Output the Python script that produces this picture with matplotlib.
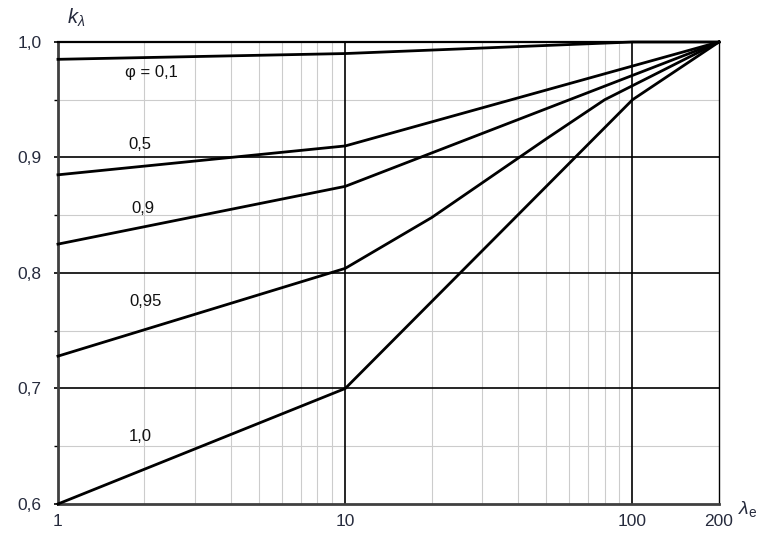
import matplotlib
matplotlib.use('Agg')
import matplotlib.pyplot as plt
from matplotlib.ticker import FixedLocator, NullFormatter

plt.rcParams['font.family'] = ['Liberation Sans', 'DejaVu Sans']
plt.rcParams['mathtext.fontset'] = 'custom'
plt.rcParams['mathtext.it'] = 'Liberation Sans:italic'
plt.rcParams['mathtext.rm'] = 'Liberation Sans'

# curves k_lambda(lambda_e) for each phi
lam_01 = [1, 10, 100, 200]
k_01 = [0.985, 0.990, 1.0, 1.0]
lam_05 = [1, 10, 200]
k_05 = [0.885, 0.910, 1.0]
lam_09 = [1, 10, 200]
k_09 = [0.825, 0.875, 1.0]
lam_095 = [1, 10, 20, 50, 80, 200]
k_095 = [0.728, 0.804, 0.848, 0.916, 0.950, 1.0]
lam_10 = [1, 10, 100, 200]
k_10 = [0.600, 0.700, 0.950, 1.0]

curve_labels = ['\u03c6 = 0,1', '0,5', '0,9', '0,95', '1,0']
label_pos = [(2.12, 0.974), (1.93, 0.911), (1.98, 0.856), (2.02, 0.775), (1.94, 0.658)]

x_major = [1, 10, 100, 200]
x_major_labels = ['1', '10', '100', '200']
y_major = [0.6, 0.7, 0.8, 0.9, 1.0]
y_major_labels = ['0,6', '0,7', '0,8', '0,9', '1,0']

txt_col = '#262b3d'

fig = plt.figure(figsize=(7.72, 5.54), dpi=100)
ax = fig.add_axes([0.0751, 0.0903, 0.8562, 0.8339])
ax.set_xscale('log')
ax.set_xlim(1, 200)
ax.set_ylim(0.6, 1.0)

# grid
minor_x = [m * d for d in (1, 10) for m in range(2, 10)]
for xv in minor_x:
    ax.axvline(xv, color='#cccccc', lw=0.8, zorder=1)
for yv in (0.65, 0.75, 0.85, 0.95):
    ax.axhline(yv, color='#cccccc', lw=0.8, zorder=1)
for xv in (10, 100):
    ax.axvline(xv, color='black', lw=1.2, zorder=2)
for yv in (0.7, 0.8, 0.9):
    ax.axhline(yv, color='black', lw=1.2, zorder=2)

for xs, ys in [(lam_01, k_01), (lam_05, k_05), (lam_09, k_09),
               (lam_095, k_095), (lam_10, k_10)]:
    ax.plot(xs, ys, color='black', lw=2.0, zorder=4, clip_on=False,
            solid_joinstyle='miter')

for lab, (px, py) in zip(curve_labels, label_pos):
    ax.text(px, py, lab, fontsize=12, ha='center', va='center', color='#111111')

ax.xaxis.set_major_locator(FixedLocator(x_major))
ax.set_xticklabels(x_major_labels)
ax.xaxis.set_minor_locator(FixedLocator([]))
ax.xaxis.set_minor_formatter(NullFormatter())
ax.yaxis.set_major_locator(FixedLocator(y_major))
ax.set_yticklabels(y_major_labels)
ax.yaxis.set_minor_locator(FixedLocator([0.65, 0.75, 0.85, 0.95]))

ax.tick_params(axis='x', which='both', length=0, pad=7, labelsize=12.5, labelcolor=txt_col)
ax.tick_params(axis='y', which='major', length=3, width=1.2, pad=9, labelsize=12.5,
               labelcolor=txt_col)
ax.tick_params(axis='y', which='minor', length=3, width=1.0)

for side in ('left', 'bottom'):
    ax.spines[side].set_color('#404040')
    ax.spines[side].set_linewidth(2.0)
ax.spines['top'].set_color('black')
ax.spines['top'].set_linewidth(1.6)
ax.spines['right'].set_color('black')
ax.spines['right'].set_linewidth(1.0)

fig.text(0.098, 0.968, r'$k_\lambda$', fontsize=14.5, color=txt_col, ha='center', va='center')
fig.text(0.968, 0.082, r'$\lambda_\mathrm{e}$', fontsize=14, color=txt_col, ha='center', va='center')

fig.savefig('out.png', dpi=100)
